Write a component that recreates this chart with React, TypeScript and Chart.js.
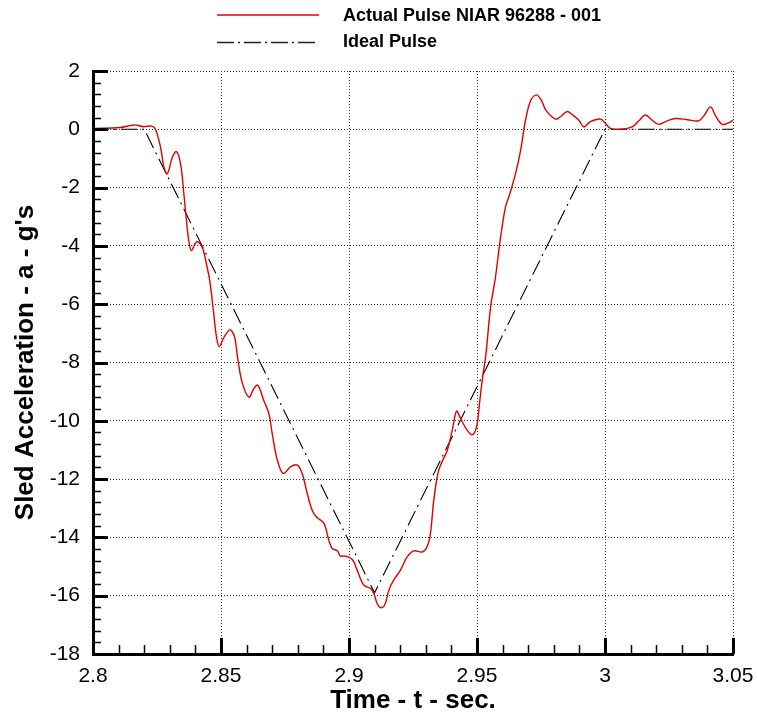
import React, { useEffect, useRef } from "react";
import { Chart, registerables } from "chart.js";

Chart.register(...registerables);

const actualLabel = "Actual Pulse NIAR 96288 - 001";
const idealLabel = "Ideal Pulse";
const xTitle = "Time - t - sec.";
const yTitle = "Sled Acceleration - a - g's";

const xTickValues = [2.8, 2.85, 2.9, 2.95, 3.0, 3.05];
const yTickValues = [2, 0, -2, -4, -6, -8, -10, -12, -14, -16, -18];

const idealT = [2.8, 2.82, 2.91, 3.0, 3.05];
const idealG = [0, 0, -15.9, 0, 0];

const actualT = [
  2.8, 2.8107, 2.816, 2.8198, 2.823, 2.8244, 2.8264, 2.8277, 2.829, 2.831,
  2.8326, 2.8342, 2.8355, 2.8365, 2.8374, 2.8384, 2.84, 2.8409, 2.8427, 2.8443,
  2.8456, 2.847, 2.8482, 2.8493, 2.8512, 2.8535, 2.8553, 2.8565, 2.8583, 2.8609,
  2.8628, 2.8644, 2.8667, 2.8687, 2.87, 2.872, 2.8743, 2.8771, 2.8798, 2.8817,
  2.8837, 2.8856, 2.8873, 2.8902, 2.8921, 2.8934, 2.8954, 2.8967, 2.8986, 2.9013,
  2.9032, 2.9058, 2.9084, 2.9097, 2.911, 2.9123, 2.9139, 2.9156, 2.9175, 2.9201,
  2.9227, 2.9253, 2.9286, 2.9305, 2.9318, 2.9331, 2.9347, 2.936, 2.9384, 2.9403,
  2.942, 2.9436, 2.9462, 2.9481, 2.9498, 2.9511, 2.9522, 2.9535, 2.9553, 2.9572,
  2.9592, 2.9611, 2.9628, 2.965, 2.967, 2.9689, 2.9709, 2.9732, 2.9751, 2.9771,
  2.9807, 2.9826, 2.9852, 2.9872, 2.9898, 2.9917, 2.9943, 2.9982, 3.0002, 3.0021,
  3.006, 3.0106, 3.0132, 3.0158, 3.0184, 3.021, 3.0243, 3.0275, 3.0321, 3.0366,
  3.0386, 3.0412, 3.0432, 3.0458, 3.0484, 3.05,
];
const actualG = [
  0.03, 0.06, 0.15, 0.09, 0.11, 0.0, -0.62, -1.3, -1.53, -0.96,
  -0.76, -1.19, -2.22, -3.13, -3.82, -4.16, -3.91, -3.85, -4.05, -4.62,
  -5.19, -6.2, -7.1, -7.45, -7.13, -6.88, -7.13, -7.85, -8.7, -9.19,
  -8.9, -8.78, -9.3, -9.75, -10.44, -11.35, -11.81, -11.58, -11.52, -11.81,
  -12.5, -13.07, -13.3, -13.52, -14.09, -14.38, -14.46, -14.64, -14.64, -14.76,
  -15.13, -15.64, -15.75, -15.92, -16.27, -16.41, -16.33, -15.8, -15.46, -15.12,
  -14.67, -14.46, -14.5, -14.32, -13.87, -12.73, -11.81, -11.47, -11.01, -10.33,
  -9.67, -9.93, -10.33, -10.48, -10.22, -9.3, -8.5, -7.7, -6.1, -5.08,
  -3.71, -2.68, -2.22, -1.54, -0.74, 0.29, 0.97, 1.18, 1.0, 0.63,
  0.35, 0.43, 0.61, 0.5, 0.31, 0.08, 0.26, 0.35, 0.2, 0.03,
  0.0, 0.08, 0.29, 0.49, 0.31, 0.17, 0.29, 0.37, 0.33, 0.29,
  0.46, 0.77, 0.46, 0.17, 0.23, 0.31,
];

const FONT = "'Liberation Sans', Arial, Helvetica, sans-serif";
const RED = "#e00000";
const IDEAL_DASH = [16, 5, 2, 5];

const ticksPlugin = {
  id: "innerTicks",
  afterDatasetsDraw(chart: any) {
    const { ctx, chartArea, scales } = chart;
    const xs = scales.x;
    const ys = scales.y;
    ctx.save();
    ctx.strokeStyle = "#000";
    for (let i = 0; i <= 50; i++) {
      const v = -18 + i * 0.4;
      const major = i % 5 === 0;
      const py = Math.round(ys.getPixelForValue(v)) + 0.5;
      ctx.lineWidth = major ? 3 : 1.5;
      ctx.beginPath();
      ctx.moveTo(chartArea.left, py);
      ctx.lineTo(chartArea.left + (major ? 15 : 8), py);
      ctx.stroke();
    }
    for (let i = 0; i <= 25; i++) {
      const v = 2.8 + i * 0.01;
      const major = i % 5 === 0;
      const px = Math.round(xs.getPixelForValue(v)) + 0.5;
      ctx.lineWidth = major ? 3 : 1.5;
      ctx.beginPath();
      ctx.moveTo(px, chartArea.bottom);
      ctx.lineTo(px, chartArea.bottom - (major ? 16 : 9));
      ctx.stroke();
    }
    ctx.restore();
  },
};

const legendPlugin = {
  id: "customLegend",
  afterDraw(chart: any) {
    const { ctx } = chart;
    ctx.save();
    ctx.setLineDash([]);
    ctx.beginPath();
    ctx.lineWidth = 1.5;
    ctx.strokeStyle = RED;
    ctx.moveTo(217, 15);
    ctx.lineTo(319, 15);
    ctx.stroke();
    ctx.beginPath();
    ctx.strokeStyle = "#222";
    ctx.lineWidth = 1.3;
    ctx.setLineDash([17, 4, 2, 4]);
    ctx.moveTo(217, 42.5);
    ctx.lineTo(319, 42.5);
    ctx.stroke();
    ctx.setLineDash([]);
    ctx.fillStyle = "#000";
    ctx.font = `bold 18px ${FONT}`;
    ctx.textBaseline = "middle";
    ctx.textAlign = "left";
    ctx.fillText(actualLabel, 343, 16);
    ctx.fillText(idealLabel, 343, 42);
    ctx.restore();
  },
};

function fmt(v: number) {
  return String(parseFloat(Number(v).toFixed(2)));
}

export default function App() {
  const ref = useRef<HTMLCanvasElement | null>(null);
  useEffect(() => {
    if (!ref.current) return;
    const chart = new Chart(ref.current, {
      type: "line",
      data: {
        datasets: [
          {
            label: actualLabel,
            data: actualT.map((t, i) => ({ x: t, y: actualG[i] })),
            borderColor: RED,
            borderWidth: 1.4,
            pointRadius: 0,
            tension: 0.35,
            fill: false,
          },
          {
            label: idealLabel,
            data: idealT.map((t, i) => ({ x: t, y: idealG[i] })),
            borderColor: "#000",
            borderWidth: 1.1,
            borderDash: IDEAL_DASH,
            pointRadius: 0,
            tension: 0,
            fill: false,
          },
        ],
      },
      options: {
        animation: false,
        responsive: true,
        maintainAspectRatio: false,
        events: [],
        layout: { padding: { left: 0, top: 71, right: 24, bottom: 0 } },
        plugins: { legend: { display: false }, tooltip: { enabled: false } },
        scales: {
          x: {
            type: "linear",
            min: 2.8,
            max: 3.05,
            afterBuildTicks: (s: any) => {
              s.ticks = xTickValues.map((v) => ({ value: v }));
            },
            afterFit: (s: any) => {
              s.height = 65;
              s.paddingLeft = 0;
              s.paddingRight = 0;
            },
            grid: { color: "#333", lineWidth: 1, drawTicks: false },
            border: { display: true, color: "#000", width: 3, dash: [1, 2] },
            ticks: {
              color: "#000",
              font: { family: FONT, size: 21 },
              padding: 10,
              maxRotation: 0,
              autoSkip: false,
              callback: (v: any) => fmt(v),
            },
            title: {
              display: true,
              text: xTitle,
              color: "#000",
              font: { family: FONT, size: 26, weight: "bold" },
              padding: { top: 0, bottom: 3 },
            },
          },
          y: {
            type: "linear",
            min: -18,
            max: 2,
            afterBuildTicks: (s: any) => {
              s.ticks = yTickValues.map((v) => ({ value: v }));
            },
            afterFit: (s: any) => {
              s.width = 93;
              s.paddingTop = 0;
              s.paddingBottom = 0;
            },
            grid: { color: "#333", lineWidth: 1, drawTicks: false },
            border: { display: true, color: "#000", width: 3, dash: [1, 2] },
            ticks: {
              color: "#000",
              font: { family: FONT, size: 21 },
              padding: 13,
              autoSkip: false,
              callback: (v: any) => fmt(v),
            },
            title: {
              display: true,
              text: yTitle,
              color: "#000",
              font: { family: FONT, size: 26, weight: "bold" },
              padding: { top: 10, bottom: 0 },
            },
          },
        },
      },
      plugins: [ticksPlugin, legendPlugin],
    } as any);
    return () => chart.destroy();
  }, []);
  return (
    <div style={{ position: "absolute", left: 0, top: 0, width: 757, height: 719, background: "#fff" }}>
      <canvas ref={ref} />
    </div>
  );
}
